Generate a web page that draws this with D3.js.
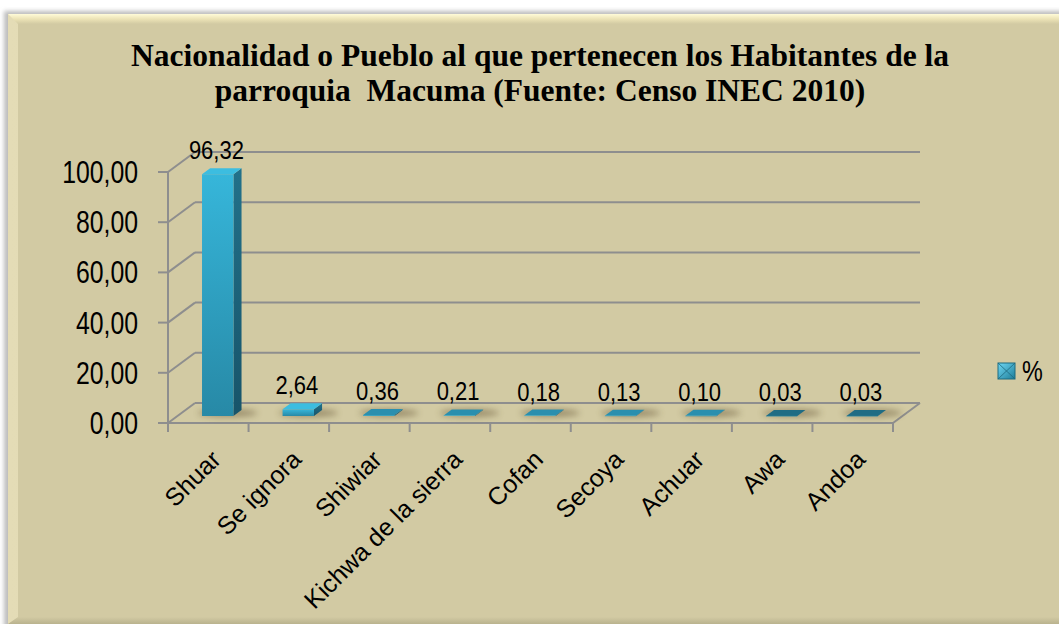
<!DOCTYPE html>
<html>
<head>
<meta charset="utf-8">
<script src="https://cdn.jsdelivr.net/npm/d3@7"></script>
<style>
  body { margin: 0; background: #fff; }
  svg { display: block; }
</style>
</head>
<body>
<svg></svg>
<script>
const width = 1059;
const height = 624;

const categories = ["Shuar", "Se ignora", "Shiwiar", "Kichwa de la sierra", "Cofan", "Secoya", "Achuar", "Awa", "Andoa"];
const values = [96.32, 2.64, 0.36, 0.21, 0.18, 0.13, 0.10, 0.03, 0.03];
const yTicks = [0, 20, 40, 60, 80, 100];
const seriesName = "%";
const titleLines = ["Nacionalidad o Pueblo al que pertenecen los Habitantes de la", "parroquia  Macuma (Fuente: Censo INEC 2010)"];

const fmt = v => d3.format(".2f")(v).replace(".", ",");

// 3d depth offset of back wall
const DX = 27, DY = -20;
const t0 = 0.35, t1 = 0.65;

const svg = d3.select('svg').attr('width', width).attr('height', height);
const defs = svg.append('defs');

const x = d3.scaleBand().domain(categories).range([168, 893]);
const y = d3.scaleLinear().domain([0, 100]).range([423, 172]);

// gradients
function linGrad(id, x2, y2, stops) {
  const g = defs.append('linearGradient').attr('id', id)
    .attr('x1', 0).attr('y1', 0).attr('x2', x2).attr('y2', y2);
  stops.forEach(s => g.append('stop').attr('offset', s[0]).attr('stop-color', s[1]));
}
linGrad('front', 0, 1, [[0, '#36b6da'], [1, '#2789a6']]);
linGrad('side', 0, 1, [[0, '#22718a'], [1, '#17546a']]);
linGrad('topBevel', 0, 1, [[0, '#fffbd8'], [0.5, '#ece3b6'], [1, '#d2caa3']]);
linGrad('leftBevel', 1, 0, [[0, '#e4dcb6'], [1, '#d2caa3']]);
linGrad('botBevel', 0, 1, [[0, '#d2caa3'], [1, '#b9b28e']]);
linGrad('legendG', 1, 1, [[0, '#6fd8f5'], [1, '#1e7d98']]);
defs.append('filter').attr('id', 'blur').attr('x', '-50%').attr('y', '-200%')
  .attr('width', '200%').attr('height', '500%')
  .append('feGaussianBlur').attr('stdDeviation', 3);
defs.append('filter').attr('id', 'blur2').append('feGaussianBlur').attr('stdDeviation', 2);

// panel
svg.append('rect').attr('x', 4).attr('y', 11).attr('width', 1070).attr('height', 630)
  .attr('fill', '#bdbdbd').attr('filter', 'url(#blur2)');
svg.append('rect').attr('x', 8).attr('y', 14).attr('width', 1060).attr('height', 620).attr('fill', '#d2caa3');
svg.append('path').attr('d', 'M8,14 L1059,14 L1059,24 L18,24 L18,618 L8,624 Z').attr('fill', 'url(#leftBevel)');
svg.append('path').attr('d', 'M8,14 L1059,14 L1059,24 L18,24 Z').attr('fill', 'url(#topBevel)');
svg.append('path').attr('d', 'M18,617 L1059,617 L1059,624 L8,624 Z').attr('fill', 'url(#botBevel)');

// title
svg.append('g').selectAll('text').data(titleLines).enter().append('text')
  .attr('x', 540).attr('y', (d, i) => 66 + i * 35)
  .attr('text-anchor', 'middle')
  .style('white-space', 'pre')
  .style('font-family', '"Liberation Serif", "Times New Roman", serif')
  .style('font-weight', 'bold').style('font-size', '31.5px')
  .text(d => d);

const grid = svg.append('g').attr('stroke', '#8e8e8e').attr('stroke-width', 2).attr('fill', 'none');

// back wall gridlines and side wall diagonals
yTicks.forEach(v => {
  grid.append('line').attr('x1', 168 + DX).attr('x2', 893 + DX)
    .attr('y1', y(v) + DY).attr('y2', y(v) + DY);
  grid.append('line').attr('x1', 168).attr('x2', 168 + DX)
    .attr('y1', y(v)).attr('y2', y(v) + DY);
  grid.append('line').attr('x1', 158).attr('x2', 168)
    .attr('y1', y(v)).attr('y2', y(v));
});
// front vertical axis, floor
grid.append('line').attr('x1', 168).attr('x2', 168).attr('y1', y(0)).attr('y2', y(100));
grid.append('line').attr('x1', 168).attr('x2', 893).attr('y1', y(0)).attr('y2', y(0));
grid.append('line').attr('x1', 893).attr('x2', 893 + DX).attr('y1', y(0)).attr('y2', y(0) + DY);
d3.range(categories.length + 1).forEach(k => {
  const xx = 168 + k * x.step();
  grid.append('line').attr('x1', xx).attr('x2', xx).attr('y1', y(0)).attr('y2', y(0) + 9);
});

// y tick labels
svg.append('g').selectAll('text').data(yTicks).enter().append('text')
  .attr('transform', d => `translate(138,${y(d) + 11}) scale(0.8,1)`)
  .attr('text-anchor', 'end')
  .style('font-family', '"Liberation Sans", Arial, sans-serif').style('font-size', '31px')
  .text(d => fmt(d));

// bars
const bw = x.bandwidth() * 0.39;
const bars = svg.append('g');
categories.forEach((c, i) => {
  const v = values[i];
  const xl = x(c) + (x.bandwidth() - bw) / 2;
  const xr = xl + bw;
  const yv = y(v), y0 = y(0);
  const p = (xx, yy, t) => [xx + t * DX, yy + t * DY];
  // shadow
  bars.append('ellipse')
    .attr('cx', (xl + xr) / 2 + 0.5 * DX + 6).attr('cy', y0 + 0.5 * DY)
    .attr('rx', bw * 0.95).attr('ry', 4)
    .attr('fill', '#5a4a2a').attr('opacity', 0.45).attr('filter', 'url(#blur)');
  const g = bars.append('g');
  g.append('polygon')
    .attr('points', [p(xr, yv, t0), p(xr, yv, t1), p(xr, y0, t1), p(xr, y0, t0)].join(' '))
    .attr('fill', 'url(#side)');
  g.append('polygon')
    .attr('points', [p(xl, yv, t0), p(xr, yv, t0), p(xr, yv, t1), p(xl, yv, t1)].join(' '))
    .attr('fill', v > 1 ? '#3cbde0' : (v > 0.05 ? '#2a8fae' : '#1f6c84'));
  g.append('rect')
    .attr('x', xl + t0 * DX).attr('y', yv + t0 * DY)
    .attr('width', bw).attr('height', Math.max(0.5, y0 - yv))
    .attr('fill', 'url(#front)');
  // value label
  svg.append('text')
    .attr('transform', `translate(${x(c) + x.bandwidth() / 2 + 0.3 * DX},${yv + 0.5 * DY - 12}) scale(0.88,1)`)
    .attr('text-anchor', 'middle')
    .style('font-family', '"Liberation Sans", Arial, sans-serif').style('font-size', '25px')
    .text(fmt(v));
});

// category labels
svg.append('g').selectAll('text').data(categories).enter().append('text')
  .attr('transform', d => `translate(${x(d) + x.bandwidth() / 2 + 14},461) rotate(-45)`)
  .attr('text-anchor', 'end')
  .style('font-family', '"Liberation Sans", Arial, sans-serif').style('font-size', '25px')
  .text(d => d);

// legend
const lg = svg.append('g').attr('transform', 'translate(998,363)');
lg.append('rect').attr('width', 17).attr('height', 16).attr('fill', 'url(#legendG)')
  .attr('stroke', '#1d6a80').attr('stroke-width', 1);
lg.append('path').attr('d', 'M0,0 L17,16 M17,0 L0,16').attr('stroke', '#1d6a80').attr('stroke-width', 0.8);
lg.append('text').attr('transform', 'translate(24,18) scale(0.78,1)')
  .style('font-family', '"Liberation Sans", Arial, sans-serif').style('font-size', '30px')
  .text(seriesName);
</script>
</body>
</html>
